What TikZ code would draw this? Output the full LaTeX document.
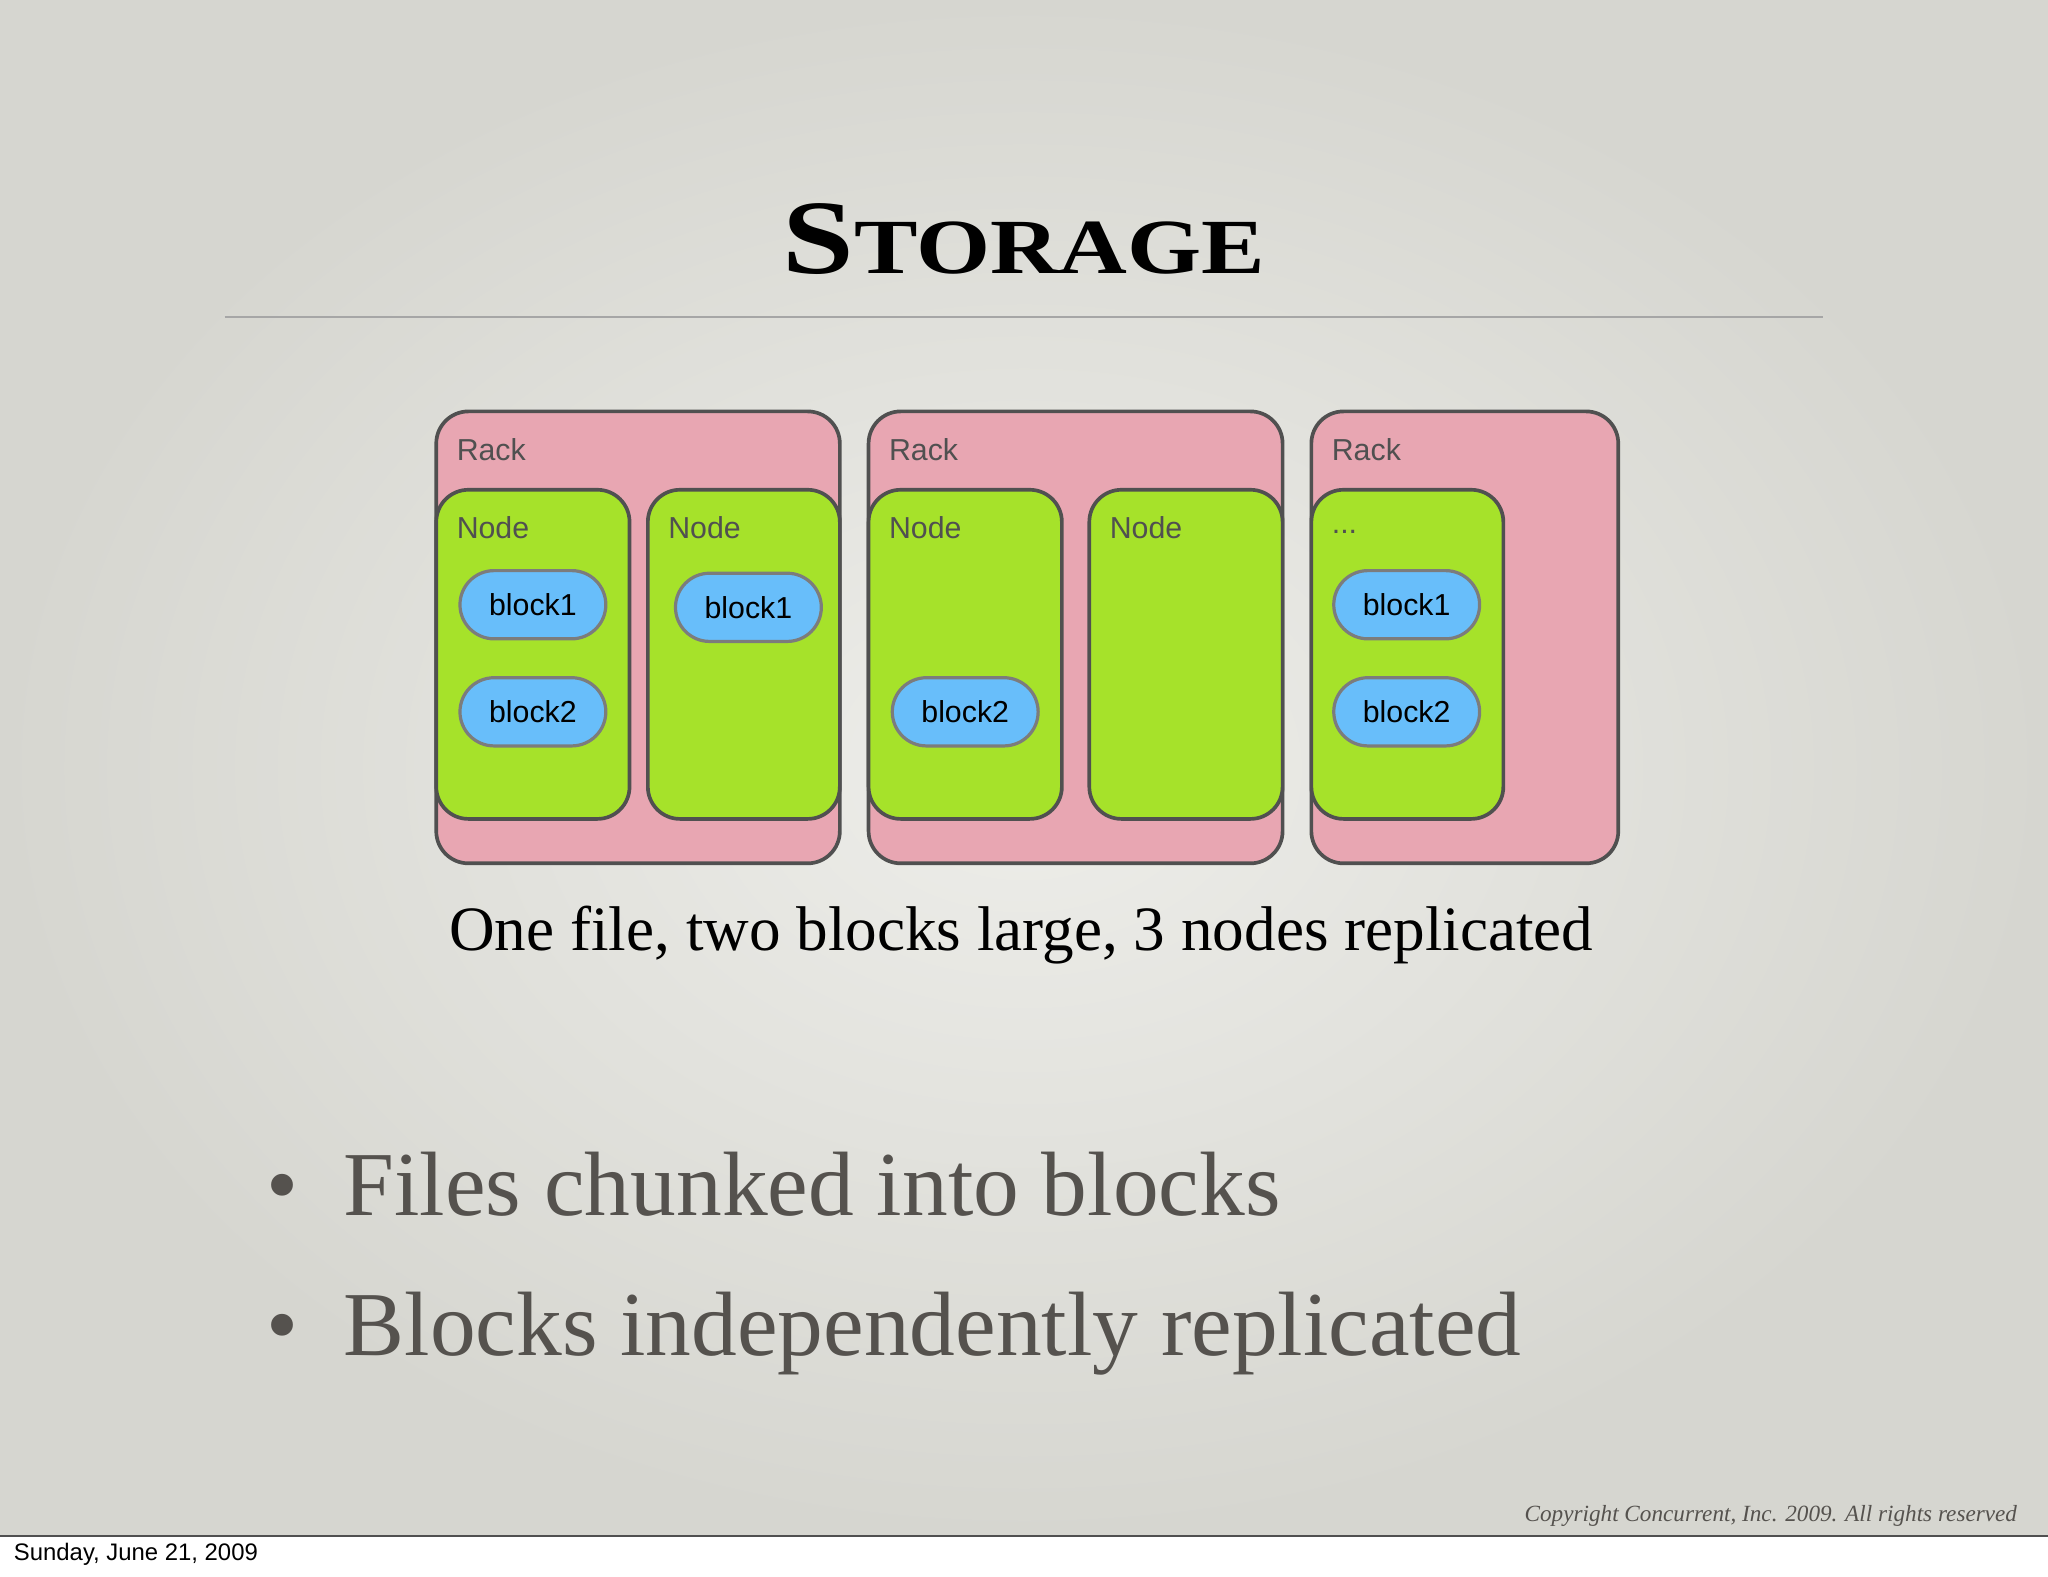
\documentclass[tikz,border=0pt]{standalone}
\usepackage{fontspec}
\setmainfont{Liberation Serif}
\setsansfont{Liberation Sans}
\usetikzlibrary{shapes.misc}
\definecolor{bgA}{RGB}{214,214,208}
\definecolor{bgB}{RGB}{238,238,234}
\definecolor{rackc}{RGB}{232,166,178}
\definecolor{nodec}{RGB}{166,226,42}
\definecolor{blockc}{RGB}{104,190,250}
\definecolor{edgec}{RGB}{80,80,80}
\definecolor{txtg}{RGB}{85,82,78}
\tikzset{
  rackbox/.style={draw=edgec,line width=0.8pt,fill=rackc,rounded corners=7pt},
  nodebox/.style={draw=edgec,line width=0.8pt,fill=nodec,rounded corners=7pt},
  blockbox/.style={draw=edgec!75,line width=0.7pt,fill=blockc,rounded rectangle,minimum width=3.1cm*0.36,minimum height=1.45cm*0.36,inner sep=0pt,font=\sffamily\fontsize{6.6}{7}\selectfont,text=black},
  lbl/.style={anchor=west,inner sep=0pt,font=\sffamily\fontsize{6.6}{7}\selectfont,text=edgec}
}
\begin{document}
\begin{tikzpicture}[x=0.01cm,y=-0.01cm]
\useasboundingbox (0,0) rectangle (1568,1207);
\fill[white] (0,0) rectangle (1568,1207);
\shade[inner color=bgB,outer color=bgA] (0,0) rectangle (1568,1176);
\draw[edgec,line width=0.4pt] (0,1176) -- (1568,1176);
\node[inner sep=0pt,font=\bfseries,xscale=1.22] (title) at (784,183) {\fontsize{23}{25}\selectfont S\fontsize{17}{18}\selectfont TORAGE};
\coordinate (l1) at (172,243); \coordinate (l2) at (1396,243);
\draw[gray!70,line width=0.4pt] (l1) -- (l2);
% racks
\draw[rackbox] (334,315) rectangle (643,661);
\draw[rackbox] (665,315) rectangle (982,661);
\draw[rackbox] (1004,315) rectangle (1239,661);
\node[lbl] (r1) at (349,344) {Rack};
\node[lbl] (r2) at (680,344) {Rack};
\node[lbl] (r3) at (1019,344) {Rack};
% nodes
\draw[nodebox] (334,375) rectangle (482,627);
\draw[nodebox] (496,375) rectangle (643,627);
\draw[nodebox] (665,375) rectangle (813,627);
\draw[nodebox] (834,375) rectangle (982,627);
\draw[nodebox] (1004,375) rectangle (1151,627);
\node[lbl] (n1) at (349,404) {Node};
\node[lbl] (n2) at (511,404) {Node};
\node[lbl] (n3) at (680,404) {Node};
\node[lbl] (n4) at (849,404) {Node};
\node[lbl] (n5) at (1019,407) {...};
% blocks
\node[blockbox] (b11) at (408,463) {block1};
\node[blockbox] (b12) at (408,545) {block2};
\node[blockbox] (b21) at (573,465) {block1};
\node[blockbox] (b32) at (739,545) {block2};
\node[blockbox] (b51) at (1077,463) {block1};
\node[blockbox] (b52) at (1077,545) {block2};
% caption
\node[inner sep=0pt,font=\fontsize{13.75}{15}\selectfont] (cap) at (782,716) {One file, two blocks large, 3 nodes replicated};
% bullets
\node[anchor=west,inner sep=0pt,text=txtg,font=\fontsize{19.9}{21}\selectfont] (bl1) at (203,907) {\textbullet\hspace{0.5em}Files chunked into blocks};
\node[anchor=west,inner sep=0pt,text=txtg,font=\fontsize{19.9}{21}\selectfont] (bl2) at (203,1021) {\textbullet\hspace{0.5em}Blocks independently replicated};
\node[anchor=east,inner sep=0pt,text=txtg,font=\itshape\fontsize{5.05}{6}\selectfont] (copy) at (1545,1161) {Copyright Concurrent, Inc. 2009. All rights reserved};
\node[anchor=west,inner sep=0pt,font=\sffamily\fontsize{5.2}{6}\selectfont] (date) at (10,1190) {Sunday, June 21, 2009};
\end{tikzpicture}
\end{document}
